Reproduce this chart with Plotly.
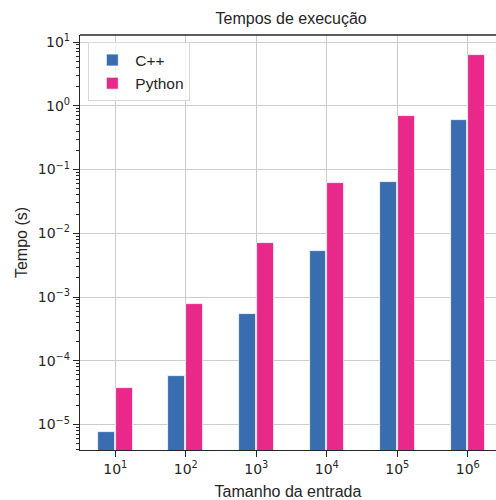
import plotly.graph_objects as go

categories = ["10<sup>1</sup>", "10<sup>2</sup>", "10<sup>3</sup>", "10<sup>4</sup>", "10<sup>5</sup>", "10<sup>6</sup>"]
cpp_times = [7.7e-6, 5.8e-5, 5.5e-4, 5.3e-3, 0.064, 0.60]
python_times = [3.8e-5, 7.8e-4, 7.1e-3, 0.061, 0.68, 6.25]
y_exponents = [-5, -4, -3, -2, -1, 0, 1]

BLUE = "#3a6cb0"
PINK = "#e8298a"
FONT = "Liberation Sans, Arial, sans-serif"
TICKFONT = "DejaVu Sans, sans-serif"
AXC = "#262626"

xpos = list(range(len(categories)))
y_tickvals = [10.0 ** e for e in y_exponents]
y_ticktext = ["10<sup>%s</sup>" % (str(e).replace("-", "\u2212")) for e in y_exponents]
y_minor = [m * 10.0 ** e for e in range(-6, 2) for m in range(2, 10)]

fig = go.Figure()
fig.add_trace(go.Bar(x=xpos, y=cpp_times, name="C++", marker=dict(color=BLUE, line=dict(color="white", width=0.8)),
                     width=0.24, offset=-0.245))
fig.add_trace(go.Bar(x=xpos, y=python_times, name="Python", marker=dict(color=PINK, line=dict(color="white", width=0.8)),
                     width=0.24, offset=0.005))

fig.update_layout(
    width=496, height=500,
    margin=dict(l=80, r=0, t=35, b=50),
    paper_bgcolor="white", plot_bgcolor="white",
    font=dict(family=FONT, size=16, color=AXC),
    title=dict(text="Tempos de execução", x=0.587, xanchor="center", y=0.964, yanchor="middle",
               font=dict(size=16, color=AXC)),
    showlegend=True,
    legend=dict(x=0.02, y=0.982, xanchor="left", yanchor="top", bgcolor="rgba(255,255,255,0.8)",
                bordercolor="#d9d9d9", borderwidth=1, font=dict(size=15.5, color=AXC),
                itemwidth=36, tracegroupgap=4),
    bargap=0,
)
fig.update_xaxes(
    type="linear", range=[-0.5, 5.4], automargin=False,
    tickmode="array", tickvals=xpos, ticktext=categories,
    showgrid=True, gridcolor="#cccccc", gridwidth=1,
    showline=True, linecolor=AXC, linewidth=1.3, mirror=False,
    ticks="outside", ticklen=6, tickwidth=1.3, tickcolor=AXC,
    tickfont=dict(family=TICKFONT, size=14, color=AXC), zeroline=False,
    title=dict(text="Tamanho da entrada", font=dict(size=16, color=AXC), standoff=9),
)
fig.update_yaxes(
    type="log", range=[-5.40, 1.11], automargin=False,
    tickmode="array", tickvals=y_tickvals, ticktext=y_ticktext,
    showgrid=True, gridcolor="#cccccc", gridwidth=1,
    showline=True, linecolor=AXC, linewidth=1.3, mirror=False,
    ticks="outside", ticklen=6, tickwidth=1.3, tickcolor=AXC,
    tickfont=dict(family=TICKFONT, size=14, color=AXC), zeroline=False,
    minor=dict(ticks="outside", ticklen=3, tickwidth=1, tickcolor=AXC, tickmode="array", tickvals=y_minor, showgrid=False),
    title=dict(text="Tempo (s)", font=dict(size=16, color=AXC), standoff=6),
)
fig.add_shape(type="line", xref="paper", yref="paper", x0=0, x1=1, y0=1, y1=1,
              line=dict(color=AXC, width=1.3), layer="above")

fig.write_html(
    "out.html",
    config={"displayModeBar": False},
    post_script="document.body.style.margin='0';document.body.style.overflow='hidden';document.documentElement.style.overflow='hidden';",
)
